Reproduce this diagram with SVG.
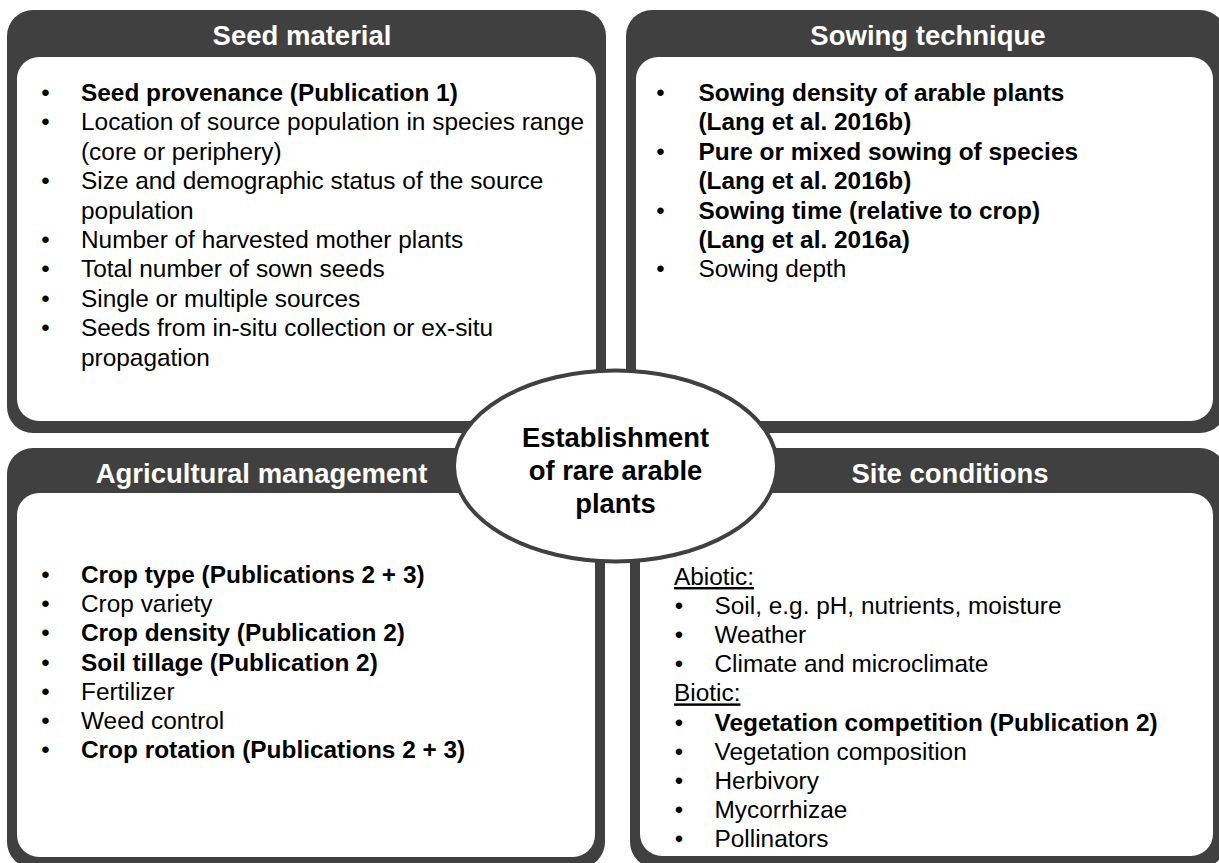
<svg xmlns="http://www.w3.org/2000/svg" width="1219" height="863" viewBox="0 0 1219 863">
<style>
.outer{fill:#404040}
.inner{fill:#ffffff}
.hd{font-family:"Liberation Sans",Arial,sans-serif;font-size:27.5px;font-weight:bold;fill:#ffffff;text-anchor:middle}
.tx{font-family:"Liberation Sans",Arial,sans-serif;font-size:24.4px;fill:#000000}
.b{font-weight:bold}
.bl{font-family:"Liberation Sans",Arial,sans-serif;font-size:24px;fill:#000000;text-anchor:middle}
.u{text-decoration:underline}
.el{fill:#ffffff;stroke:#404040;stroke-width:4}
.et{font-family:"Liberation Sans",Arial,sans-serif;font-size:27.4px;font-weight:bold;fill:#000000;text-anchor:middle}
</style>
<rect width="1219" height="863" fill="#ffffff"/>
<g id="seed-material">
<rect class="outer" x="7" y="10" width="599" height="423" rx="26"/>
<rect class="inner" x="17" y="57" width="579" height="364" rx="22"/>
<text class="hd" x="302" y="44.5">Seed material</text>
<g class="bl"><text x="45.5" y="101">•</text><text x="45.5" y="130.4">•</text><text x="45.5" y="189.2">•</text><text x="45.5" y="248">•</text><text x="45.5" y="277.4">•</text><text x="45.5" y="306.8">•</text><text x="45.5" y="336.2">•</text></g>
<text class="tx b" x="81" y="101">Seed provenance (Publication 1)</text>
<text class="tx" x="81" y="130.4">Location of source population in species range</text>
<text class="tx" x="81" y="159.8">(core or periphery)</text>
<text class="tx" x="81" y="189.2">Size and demographic status of the source</text>
<text class="tx" x="81" y="218.6">population</text>
<text class="tx" x="81" y="248">Number of harvested mother plants</text>
<text class="tx" x="81" y="277.4">Total number of sown seeds</text>
<text class="tx" x="81" y="306.8">Single or multiple sources</text>
<text class="tx" x="81" y="336.2">Seeds from in-situ collection or ex-situ</text>
<text class="tx" x="81" y="365.6">propagation</text>
</g>
<g id="sowing-technique">
<rect class="outer" x="626" y="10" width="600" height="423" rx="26"/>
<rect class="inner" x="636" y="57" width="577" height="364" rx="22"/>
<text class="hd" x="928" y="44.5">Sowing technique</text>
<g class="bl"><text x="660.5" y="101">•</text><text x="660.5" y="159.8">•</text><text x="660.5" y="218.6">•</text><text x="660.5" y="277.4">•</text></g>
<text class="tx b" x="698.5" y="101">Sowing density of arable plants</text>
<text class="tx b" x="698.5" y="130.4">(Lang et al. 2016b)</text>
<text class="tx b" x="698.5" y="159.8">Pure or mixed sowing of species</text>
<text class="tx b" x="698.5" y="189.2">(Lang et al. 2016b)</text>
<text class="tx b" x="698.5" y="218.6">Sowing time (relative to crop)</text>
<text class="tx b" x="698.5" y="248">(Lang et al. 2016a)</text>
<text class="tx" x="698.5" y="277.4">Sowing depth</text>
</g>
<g id="agricultural-management">
<rect class="outer" x="7" y="448" width="598" height="420" rx="26"/>
<rect class="inner" x="17" y="493" width="578" height="364" rx="22"/>
<text class="hd" x="261.5" y="482.5">Agricultural management</text>
<g class="bl"><text x="45.5" y="583">•</text><text x="45.5" y="612.2">•</text><text x="45.5" y="641.4">•</text><text x="45.5" y="670.6">•</text><text x="45.5" y="699.8">•</text><text x="45.5" y="729">•</text><text x="45.5" y="758.2">•</text></g>
<text class="tx b" x="81" y="583">Crop type (Publications 2 + 3)</text>
<text class="tx" x="81" y="612.2">Crop variety</text>
<text class="tx b" x="81" y="641.4">Crop density (Publication 2)</text>
<text class="tx b" x="81" y="670.6">Soil tillage (Publication 2)</text>
<text class="tx" x="81" y="699.8">Fertilizer</text>
<text class="tx" x="81" y="729">Weed control</text>
<text class="tx b" x="81" y="758.2">Crop rotation (Publications 2 + 3)</text>
</g>
<g id="site-conditions">
<rect class="outer" x="630" y="448" width="596" height="420" rx="26"/>
<rect class="inner" x="640" y="493" width="573" height="363" rx="22"/>
<text class="hd" x="950" y="482.5">Site conditions</text>
<text class="tx u" x="674" y="585">Abiotic:</text>
<g class="bl"><text x="679" y="614.1">•</text><text x="679" y="643.2">•</text><text x="679" y="672.3">•</text><text x="679" y="730.5">•</text><text x="679" y="759.6">•</text><text x="679" y="788.7">•</text><text x="679" y="817.8">•</text><text x="679" y="846.9">•</text></g>
<text class="tx" x="714.5" y="614.1">Soil, e.g. pH, nutrients, moisture</text>
<text class="tx" x="714.5" y="643.2">Weather</text>
<text class="tx" x="714.5" y="672.3">Climate and microclimate</text>
<text class="tx u" x="674" y="701.4">Biotic:</text>
<text class="tx b" x="714.5" y="730.5">Vegetation competition (Publication 2)</text>
<text class="tx" x="714.5" y="759.6">Vegetation composition</text>
<text class="tx" x="714.5" y="788.7">Herbivory</text>
<text class="tx" x="714.5" y="817.8">Mycorrhizae</text>
<text class="tx" x="714.5" y="846.9">Pollinators</text>
</g>
<g id="connectors"></g>
<g id="establishment">
<ellipse class="el" cx="615.5" cy="466" rx="161.5" ry="95.5"/>
<text class="et" x="615.5" y="446.5">Establishment</text>
<text class="et" x="615.5" y="479.5">of rare arable</text>
<text class="et" x="615.5" y="512.5">plants</text>
</g>
</svg>
